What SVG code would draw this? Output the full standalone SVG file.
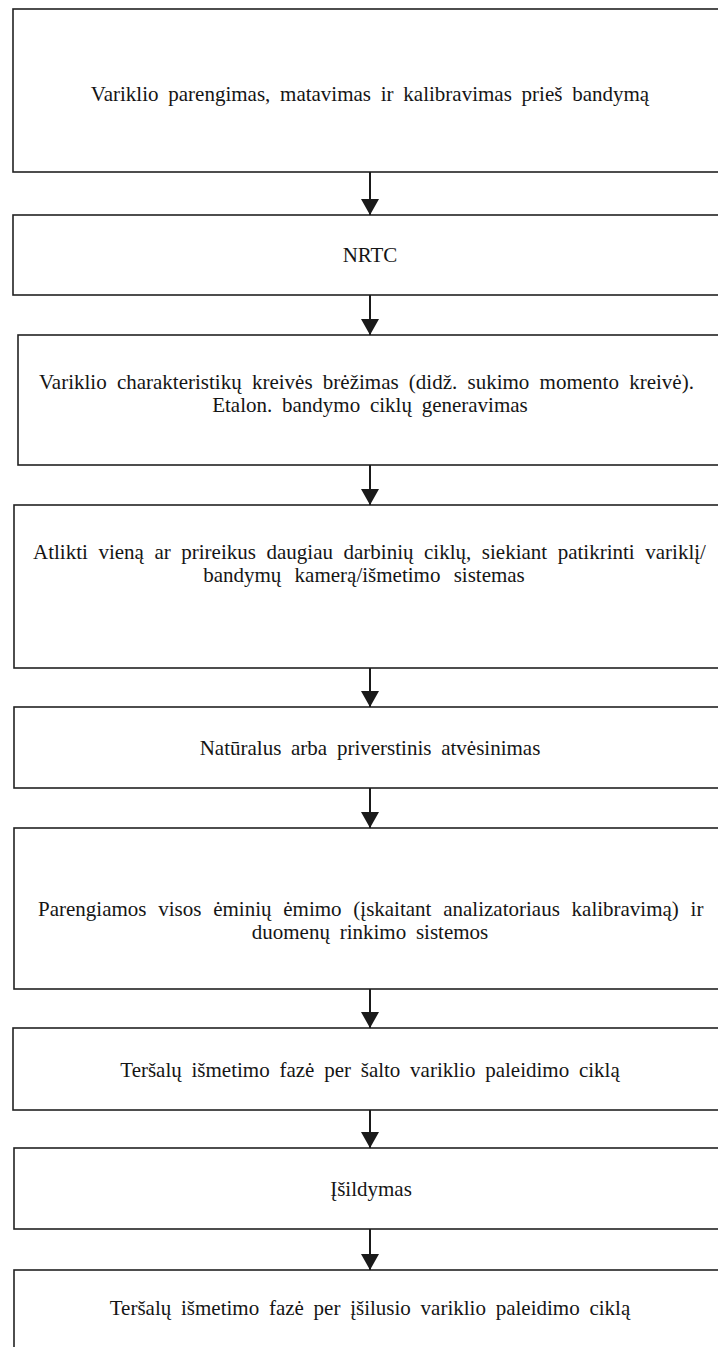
<svg xmlns="http://www.w3.org/2000/svg" width="718" height="1347" viewBox="0 0 718 1347">
<style>
.box{fill:#fff;stroke:#222;stroke-width:1.6}
.t{font-family:"Liberation Serif","Times New Roman",serif;font-size:21px;fill:#151515;text-anchor:middle;word-spacing:4.5px}
.j{text-anchor:start}
.c{stroke:#1a1a1a;stroke-width:2;fill:none}
</style>
<defs>
<marker id="ah" markerUnits="userSpaceOnUse" markerWidth="16" markerHeight="18" refX="16" refY="9" orient="auto" viewBox="0 0 16 18">
<path d="M0,0 L16,9 L0,18 Z" fill="#1a1a1a"/>
</marker>
</defs>
<rect width="718" height="1347" fill="#fff"/>
<g id="n1"><rect class="box" x="13" y="9" width="720" height="163"/>
<text class="t" x="370" y="101">Variklio parengimas, matavimas ir kalibravimas prieš bandymą</text></g>
<g id="n2"><rect class="box" x="13" y="215" width="720" height="80"/>
<text class="t" x="370" y="262">NRTC</text></g>
<g id="n3"><rect class="box" x="18" y="335" width="720" height="130"/>
<text class="t j" x="39" y="389" style="word-spacing:5px">Variklio charakteristikų kreivės brėžimas (didž. sukimo momento kreivė).</text>
<text class="t" x="370" y="412">Etalon. bandymo ciklų generavimas</text></g>
<g id="n4"><rect class="box" x="14" y="505" width="720" height="163"/>
<text class="t j" x="33" y="559" style="word-spacing:5.3px">Atlikti vieną ar prireikus daugiau darbinių ciklų, siekiant patikrinti variklį/</text>
<text class="t" x="364" y="582" style="word-spacing:8px">bandymų kamerą/išmetimo sistemas</text></g>
<g id="n5"><rect class="box" x="14" y="707" width="720" height="81"/>
<text class="t" x="370" y="755">Natūralus arba priverstinis atvėsinimas</text></g>
<g id="n6"><rect class="box" x="14" y="828" width="720" height="161"/>
<text class="t j" x="38" y="916" style="word-spacing:6.5px">Parengiamos visos ėminių ėmimo (įskaitant analizatoriaus kalibravimą) ir</text>
<text class="t" x="370" y="939">duomenų rinkimo sistemos</text></g>
<g id="n7"><rect class="box" x="13" y="1028" width="720" height="82"/>
<text class="t" x="370" y="1077">Teršalų išmetimo fazė per šalto variklio paleidimo ciklą</text></g>
<g id="n8"><rect class="box" x="14" y="1148" width="720" height="81"/>
<text class="t" x="371" y="1196">Įšildymas</text></g>
<g id="n9"><rect class="box" x="14" y="1270" width="720" height="100"/>
<text class="t" x="370" y="1315">Teršalų išmetimo fazė per įšilusio variklio paleidimo ciklą</text></g>
<g id="connectors">
<line class="c" x1="370" y1="172" x2="370" y2="215" marker-end="url(#ah)"/>
<line class="c" x1="370" y1="295" x2="370" y2="335" marker-end="url(#ah)"/>
<line class="c" x1="370" y1="465" x2="370" y2="505" marker-end="url(#ah)"/>
<line class="c" x1="370" y1="668" x2="370" y2="707" marker-end="url(#ah)"/>
<line class="c" x1="370" y1="788" x2="370" y2="828" marker-end="url(#ah)"/>
<line class="c" x1="370" y1="989" x2="370" y2="1028" marker-end="url(#ah)"/>
<line class="c" x1="370" y1="1110" x2="370" y2="1148" marker-end="url(#ah)"/>
<line class="c" x1="370" y1="1229" x2="370" y2="1270" marker-end="url(#ah)"/>
</g>
</svg>
